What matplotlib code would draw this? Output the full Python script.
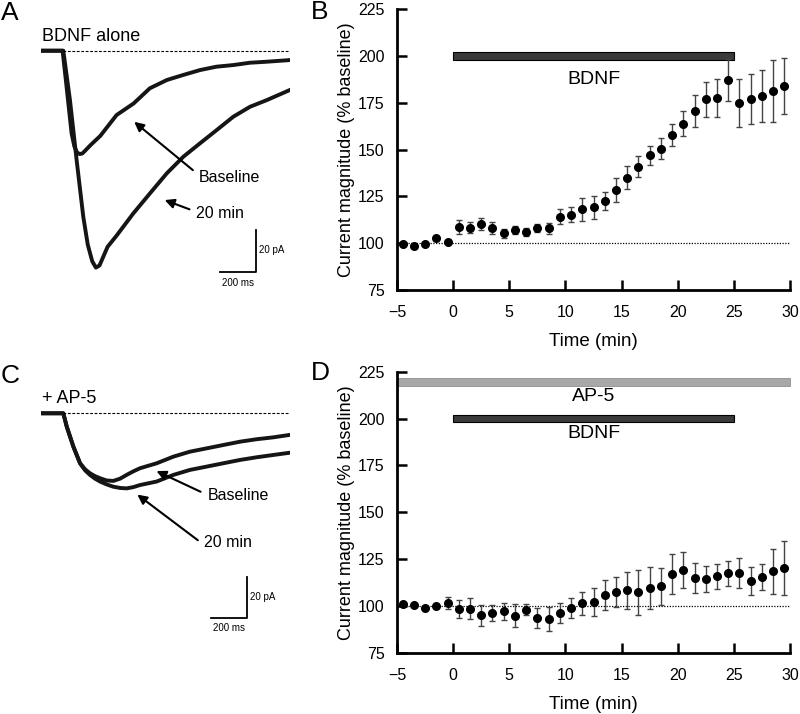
import matplotlib
matplotlib.use("Agg")
import matplotlib.pyplot as plt

plt.rcParams['font.family'] = ['Liberation Sans', 'DejaVu Sans']

# time course (min), bin centres
minutes = [-4.5, -3.5, -2.5, -1.5, -0.5, 0.5, 1.5, 2.5, 3.5, 4.5, 5.5, 6.5, 7.5, 8.5,
           9.5, 10.5, 11.5, 12.5, 13.5, 14.5, 15.5, 16.5, 17.5, 18.5, 19.5, 20.5,
           21.5, 22.5, 23.5, 24.5, 25.5, 26.5, 27.5, 28.5, 29.5]

# panel B: BDNF alone (% baseline)
bdnf_mean = [99.6, 98.5, 99.4, 102.8, 100.5, 108.5, 108.3, 110.3, 108.1, 105.3, 107.0,
             106.0, 108.1, 108.0, 114.2, 115.1, 118.1, 119.2, 122.6, 128.4, 135.0,
             140.9, 147.0, 150.5, 157.8, 163.9, 170.5, 176.9, 177.6, 187.2, 174.8,
             177.1, 178.7, 181.5, 183.8]
bdnf_err = [0, 0, 0, 0, 0, 3.7, 3.0, 3.0, 3.0, 2.5, 2.0, 2.0, 2.0, 3.0, 4.0, 4.0, 6.0,
            6.0, 5.0, 6.5, 6.0, 5.5, 5.0, 5.5, 6.0, 6.5, 8.5, 9.5, 10.0, 11.0, 12.7,
            13.4, 14.0, 16.5, 15.0]

# panel D: BDNF + AP-5 (% baseline)
ap5_mean = [101.3, 100.7, 99.0, 99.8, 101.6, 98.4, 98.6, 95.0, 96.3, 97.2, 94.9, 98.1,
            93.6, 93.1, 96.3, 99.0, 101.4, 102.3, 106.0, 107.3, 108.4, 107.3, 109.6,
            110.5, 117.2, 119.4, 114.8, 114.6, 115.8, 117.4, 117.4, 113.3, 115.6,
            118.7, 120.3]
ap5_err = [1.0, 0, 0, 0, 3.0, 4.7, 5.5, 5.5, 4.5, 4.5, 6.0, 3.0, 5.5, 6.5, 5.5, 5.5,
           6.0, 7.5, 8.0, 8.0, 10.0, 12.0, 11.0, 10.0, 10.5, 9.5, 8.0, 7.0, 6.5, 6.5,
           8.0, 7.5, 7.0, 12.0, 14.5]

# drug application periods (min)
bdnf_period = (0, 25)
ap5_period = (-5, 30)

# example currents (ms, pA)
trace_a_t_base = [0, 120, 140, 170, 185, 200, 215, 230, 245, 275, 330, 420, 515, 605,
                  700, 790, 885, 975, 1070, 1160, 1255, 1385]
trace_a_base = [0, 0, -15.7, -39.8, -46.0, -49.0, -49.8, -49.5, -48.2, -45.5, -41.0,
                -31.0, -25.4, -18.1, -14.1, -11.7, -9.3, -7.7, -6.9, -5.8, -5.3, -4.5]
trace_a_t_20 = [0, 124, 161, 198, 235, 260, 285, 305, 325, 345, 370, 421, 513, 606, 699,
                791, 884, 977, 1069, 1162, 1255, 1384]
trace_a_20 = [0, 0, -23.8, -52.7, -80.0, -93.5, -101.5, -104.5, -103.5, -99.5, -94.5,
              -89.0, -78.4, -68.7, -59.1, -51.1, -44.6, -38.2, -31.8, -27.0, -23.8, -18.9]

trace_c_t = [0, 124, 143, 180, 217, 245, 272, 300, 328, 365, 402, 440, 476, 513, 550,
             643, 736, 828, 921, 1013, 1106, 1199, 1291, 1384]
trace_c_base = [0, 0, -6.4, -16.1, -24.1, -27.0, -28.9, -30.3, -31.3, -32.4, -32.6,
                -31.5, -29.7, -28.0, -26.5, -24.1, -20.9, -18.5, -16.9, -15.3, -13.7,
                -12.5, -11.6, -10.4]
trace_c_20 = [0, 0, -6.4, -16.1, -24.1, -27.5, -29.7, -31.5, -32.9, -34.3, -35.4, -36.0,
              -36.2, -35.6, -34.6, -32.9, -29.7, -27.3, -25.7, -24.1, -22.5, -21.2,
              -20.1, -19.0]

W, H = 800, 714
fig = plt.figure(figsize=(W / 100, H / 100), dpi=100)


def px_axes(x0, y0, x1, y1):
    # axes from pixel box (top-left origin)
    return fig.add_axes([x0 / W, 1 - y1 / H, (x1 - x0) / W, (y1 - y0) / H])


def time_course(ax, mean, err):
    ax.errorbar(minutes, mean, yerr=err, fmt='o', color='black', ms=5.5,
                ecolor='#444444', elinewidth=1.0, capsize=2, capthick=1.0, zorder=3)
    ax.hlines(100, -5, 30, colors='black', linestyles=(0, (1, 1.2)), linewidth=0.9)
    ax.set_xlim(-5, 30)
    ax.set_ylim(75, 225)
    ax.set_xticks(range(-5, 31, 5))
    ax.set_yticks(range(75, 226, 25))
    for s in ('top', 'right'):
        ax.spines[s].set_visible(False)
    for s in ('left', 'bottom'):
        ax.spines[s].set_linewidth(2.0)
    ax.tick_params(direction='in', length=7, width=1.8, labelsize=11.5)
    ax.tick_params(axis='x', pad=11)
    ax.tick_params(axis='y', pad=9)
    ax.set_xlabel('Time (min)', fontsize=13.5, labelpad=9)
    ax.set_ylabel('Current magnitude (% baseline)', fontsize=13, labelpad=2)


def trace_panel(ax, t1, y1, t2, y2, title):
    ax.plot(t1, y1, color='#151515', lw=2.8, solid_joinstyle='round')
    ax.plot(t2, y2, color='#151515', lw=2.8, solid_joinstyle='round')
    ax.hlines(0, 124, 1384, colors='black', linestyles=(0, (2.5, 1.5)), linewidth=0.8)
    ax.text(5, 7, title, fontsize=13, va='center', ha='left')
    ax.axis('off')


arrow = dict(arrowstyle='-|>', color='black', lw=1.5, mutation_scale=14)

# ---- A
axA = px_axes(41, 20, 290, 290)
axA.set_xlim(0, 1384)
axA.set_ylim(-115.3, 14.8)
trace_panel(axA, trace_a_t_base, trace_a_base, trace_a_t_20, trace_a_20, 'BDNF alone')
axA.annotate('', xy=(506, -33.4), xytext=(856, -58.4), arrowprops=arrow)
axA.text(878, -60.9, 'Baseline', fontsize=11.5, va='center')
axA.annotate('', xy=(673, -71.5), xytext=(840, -76.9), arrowprops=arrow)
axA.text(862, -78.3, '20 min', fontsize=11.5, va='center')
axA.plot([995, 1195, 1195], [-106.6, -106.6, -86.4], color='black', lw=1.3, clip_on=False)
axA.text(1212, -96.1, '20 pA', fontsize=7, va='center')
axA.text(1095, -112, '200 ms', fontsize=7, va='center', ha='center')

# ---- C
axC = px_axes(41, 383, 290, 640)
axC.set_xlim(0, 1384)
axC.set_ylim(-109.3, 14.6)
trace_panel(axC, trace_c_t, trace_c_base, trace_c_t, trace_c_20, '+ AP-5')
axC.annotate('', xy=(628, -27.3), xytext=(901, -38.4), arrowprops=arrow)
axC.text(928, -39.4, 'Baseline', fontsize=11.5, va='center')
axC.annotate('', xy=(523, -38.4), xytext=(884, -62), arrowprops=arrow)
axC.text(906, -62.5, '20 min', fontsize=11.5, va='center')
axC.plot([945, 1145, 1145], [-98.8, -98.8, -78.8], color='black', lw=1.3, clip_on=False)
axC.text(1162, -88.5, '20 pA', fontsize=7, va='center')
axC.text(1045, -103.6, '200 ms', fontsize=7, va='center', ha='center')

# ---- B
axB = px_axes(397, 9.3, 790, 290)
time_course(axB, bdnf_mean, bdnf_err)
axB.barh(200, bdnf_period[1] - bdnf_period[0], left=bdnf_period[0], height=4.1,
         color='#3a3a3a', edgecolor='black', linewidth=0.8, zorder=2)
axB.text(12.5, 187.5, 'BDNF', fontsize=14, ha='center', va='center')

# ---- D
axD = px_axes(397, 371.7, 790, 653)
time_course(axD, ap5_mean, ap5_err)
axD.barh(219.5, ap5_period[1] - ap5_period[0], left=ap5_period[0], height=4.4,
         color='#a8a8a8', edgecolor='#909090', linewidth=0.6, zorder=2, clip_on=False)
axD.text(12.5, 212, 'AP-5', fontsize=14, ha='center', va='center')
axD.barh(200, bdnf_period[1] - bdnf_period[0], left=bdnf_period[0], height=4.1,
         color='#3a3a3a', edgecolor='black', linewidth=0.8, zorder=2)
axD.text(12.5, 192, 'BDNF', fontsize=14, ha='center', va='center')

# panel letters
for lab, x, y in [('A', 1, 13), ('B', 311, 12), ('C', 1, 376), ('D', 311, 373)]:
    fig.text(x / W, 1 - y / H, lab, fontsize=19, ha='left', va='center')

fig.savefig('out.png', dpi=100)
